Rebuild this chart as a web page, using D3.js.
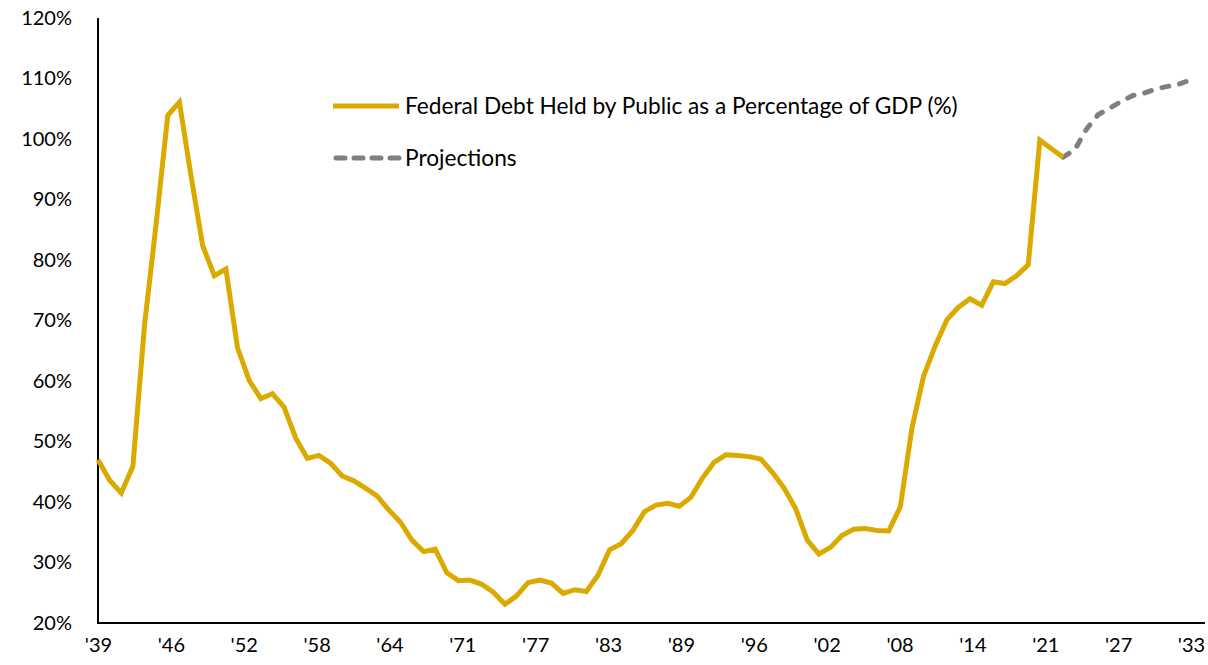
<!DOCTYPE html>
<html>
<head>
<meta charset="utf-8">
<script src="https://cdn.jsdelivr.net/npm/d3@7/dist/d3.min.js"></script>
<style>
  html, body { margin: 0; padding: 0; background: #fff; }
  svg { display: block; }
  text { font-family: Lato, "Open Sans", sans-serif; fill: #000; }
</style>
</head>
<body>
<svg id="chart" width="1208" height="665"></svg>
<script>
// Federal debt held by the public, % of GDP (fiscal years)
const years = d3.range(1939, 2023);
const debtPct = [
  47.0, 43.6, 41.5, 45.9, 69.2, 86.0, 103.9, 106.1, 93.9, 82.4,
  77.4, 78.5, 65.5, 60.1, 57.1, 57.9, 55.7, 50.6, 47.2, 47.7,
  46.4, 44.3, 43.5, 42.3, 41.0, 38.7, 36.7, 33.7, 31.8, 32.2,
  28.3, 27.0, 27.1, 26.4, 25.1, 23.1, 24.5, 26.7, 27.1, 26.6,
  24.9, 25.5, 25.2, 27.9, 32.1, 33.1, 35.3, 38.4, 39.5, 39.8,
  39.3, 40.8, 44.0, 46.6, 47.8, 47.7, 47.5, 47.1, 44.9, 42.3,
  38.9, 33.7, 31.4, 32.5, 34.5, 35.5, 35.6, 35.3, 35.2, 39.2,
  52.2, 60.8, 65.8, 70.1, 72.2, 73.6, 72.5, 76.4, 76.1, 77.4,
  79.2, 99.8, 98.4, 97.0
];

// Projection path starts from the last actual year
const projYears = d3.range(2022, 2034);
const projPct = [97.0, 98.2, 101.6, 104.0, 105.1, 106.2, 107.2, 107.6, 108.3, 108.7, 109.1, 109.8];

const xTickLabels = ["'39","'46","'52","'58","'64","'71","'77","'83","'89","'96","'02","'08","'14","'21","'27","'33"];
const yTickValues = [20, 30, 40, 50, 60, 70, 80, 90, 100, 110, 120];

const seriesNames = ["Federal Debt Held by Public as a Percentage of GDP (%)", "Projections"];
const gold = "#DAAA00";
const grey = "#7F7F7F";

const svg = d3.select("#chart");
const plot = { left: 98, right: 1205, top: 18, bottom: 623 };

const x = d3.scaleLinear().domain([1939, 2033]).range([plot.left, 1191]);
const y = d3.scaleLinear().domain([20, 120]).range([plot.bottom, plot.top]);

// x labels spaced evenly across the year span
const xStep = (2033 - 1939) / (xTickLabels.length - 1);
const xTickValues = xTickLabels.map((_, i) => 1939 + i * xStep);

// Y axis labels
const yAxis = d3.axisLeft(y)
  .tickValues(yTickValues)
  .tickFormat(d => d + "%")
  .tickSize(0)
  .tickPadding(26);
const gy = svg.append("g").attr("transform", `translate(${plot.left},0)`).call(yAxis);
gy.select(".domain").remove();
gy.selectAll("text").attr("font-size", 20).style("font-family", "Lato, sans-serif").attr("fill", "#000");

// X axis labels
const xAxis = d3.axisBottom(x)
  .tickValues(xTickValues)
  .tickFormat((d, i) => xTickLabels[i])
  .tickSize(0)
  .tickPadding(15);
const gx = svg.append("g").attr("transform", `translate(0,${plot.bottom})`).call(xAxis);
gx.select(".domain").remove();
gx.selectAll("text").attr("font-size", 20).style("font-family", "Lato, sans-serif").attr("fill", "#000");

// Axis lines
svg.append("line")
  .attr("x1", plot.left).attr("x2", plot.left)
  .attr("y1", plot.top).attr("y2", plot.bottom + 1)
  .attr("stroke", "#000").attr("stroke-width", 2);
svg.append("line")
  .attr("x1", plot.left - 1).attr("x2", plot.right)
  .attr("y1", plot.bottom).attr("y2", plot.bottom)
  .attr("stroke", "#000").attr("stroke-width", 2);

// Series lines
const line = d3.line().x(d => x(d[0])).y(d => y(d[1]));

svg.append("path")
  .datum(projYears.map((yr, i) => [yr, projPct[i]]))
  .attr("d", line)
  .attr("fill", "none")
  .attr("stroke", grey)
  .attr("stroke-width", 5)
  .attr("stroke-linecap", "round")
  .attr("stroke-dasharray", "7,11");

svg.append("path")
  .datum(years.map((yr, i) => [yr, debtPct[i]]))
  .attr("d", line)
  .attr("fill", "none")
  .attr("stroke", gold)
  .attr("stroke-width", 5)
  .attr("stroke-linejoin", "miter")
  .attr("stroke-linecap", "butt");

// Legend
const legend = svg.append("g");
const legendRows = [
  { name: seriesNames[0], color: gold, dash: null, cy: 106 },
  { name: seriesNames[1], color: grey, dash: "9,9", cy: 158 }
];
legendRows.forEach(r => {
  legend.append("line")
    .attr("x1", r.dash ? 336 : 333).attr("x2", 399)
    .attr("y1", r.cy).attr("y2", r.cy)
    .attr("stroke", r.color)
    .attr("stroke-width", 5)
    .attr("stroke-linecap", r.dash ? "round" : "butt")
    .attr("stroke-dasharray", r.dash);
  legend.append("text")
    .attr("x", 405).attr("y", r.cy)
    .attr("dy", "0.35em")
    .attr("font-size", 22.7)
    .text(r.name);
});
</script>
</body>
</html>
